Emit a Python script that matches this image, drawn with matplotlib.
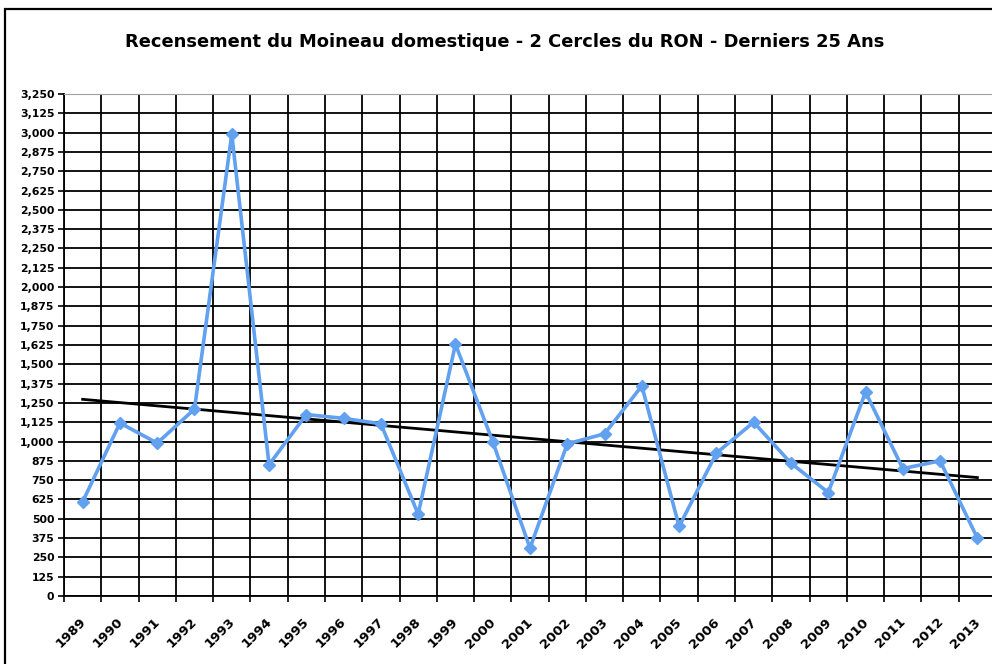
import matplotlib

matplotlib.use("Agg")
import matplotlib.pyplot as plt
import numpy as np
from matplotlib.patches import Rectangle
from matplotlib.ticker import FuncFormatter

# donnees
ANNEES = [str(a) for a in range(1989, 2014)]
EFFECTIFS = [
    610, 1120, 990, 1210, 2990, 850, 1175, 1150, 1115, 530,
    1630, 1000, 310, 985, 1050, 1360, 450, 925, 1125, 860,
    670, 1320, 825, 875, 375,
]
GRADUATIONS_Y = list(range(0, 3251, 125))
TITRE = "Recensement du Moineau domestique - 2 Cercles du RON - Derniers 25 Ans"

plt.rcParams["font.family"] = ["DejaVu Sans"]

fig = plt.figure(figsize=(9.92, 6.64), dpi=100)
ax = fig.add_axes([64 / 992, 1 - 596 / 664, 932 / 992, (596 - 94) / 664])

x = np.arange(len(ANNEES)) + 0.5
y = np.array(EFFECTIFS, dtype=float)

# tendance lineaire
pente, origine = np.polyfit(x, y, 1)
ax.plot(x, pente * x + origine, color="black", linewidth=2.0, zorder=3)

ax.plot(x, y, color="#62a0f0", linewidth=2.6, marker="D", markersize=6,
        markerfacecolor="#62a0f0", markeredgecolor="#62a0f0", zorder=4)

ax.set_xlim(0, len(ANNEES))
ax.set_ylim(0, 3250)
ax.set_yticks(GRADUATIONS_Y)
ax.yaxis.set_major_formatter(FuncFormatter(lambda v, _: f"{int(v):,}"))
ax.set_xticks(np.arange(len(ANNEES) + 1))
ax.set_xticklabels([])
ax.set_xticks(x - 0.1, minor=True)
ax.set_xticklabels(ANNEES, minor=True, rotation=45, ha="right", va="top",
                   rotation_mode="anchor", fontsize=9.5, fontweight="bold")
ax.tick_params(axis="x", which="minor", length=0, pad=14)
ax.tick_params(axis="x", which="major", length=4, width=1.2, direction="out")
ax.tick_params(axis="y", length=4, width=1.2, direction="out", labelsize=7.8, pad=3)
for lab in ax.get_yticklabels():
    lab.set_fontweight("bold")

ax.grid(True, which="major", color="black", linewidth=1.3)
ax.set_axisbelow(True)
for cote in ["top", "right"]:
    ax.spines[cote].set_color("#a0a0a0")
ax.spines["left"].set_linewidth(1.3)
ax.spines["bottom"].set_linewidth(1.3)

fig.text(505 / 992, 1 - 42 / 664, TITRE, ha="center", va="center",
         fontsize=12.9, fontweight="bold")

# cadre du graphique
fig.patches.append(Rectangle((5 / 992, -0.1), 1.2, 1.1 - 9 / 664,
                             transform=fig.transFigure, fill=False,
                             edgecolor="black", linewidth=1.6))

fig.savefig("out.png", dpi=100)
plt.close(fig)
